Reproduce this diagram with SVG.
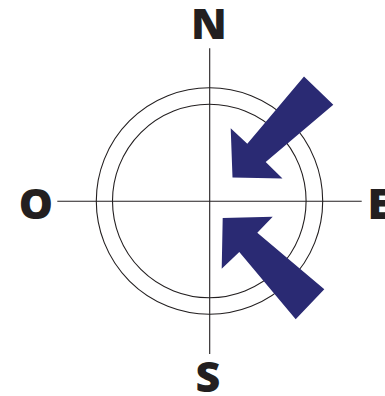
<svg xmlns="http://www.w3.org/2000/svg" width="385" height="396" viewBox="0 0 385 396">
<style>
.ln{stroke:#231f20;stroke-width:1.1;fill:none}
.lbl{font-family:"Open Sans","Liberation Sans",sans-serif;font-weight:800;font-size:43px;fill:#231f20;text-anchor:middle}
.arr{fill:#2a2a73}
</style>
<rect width="385" height="396" fill="#fff"/>
<g id="compass">
<circle class="ln" cx="209.5" cy="201" r="113.2"/>
<circle class="ln" cx="209.3" cy="201" r="96.8"/>
<line class="ln" x1="209.7" y1="48.3" x2="209.7" y2="354"/>
<line class="ln" x1="57.3" y1="201.3" x2="361.7" y2="201.3"/>
</g>
<g id="labels">
<text class="lbl" x="209" y="39">N</text>
<text class="lbl" x="208" y="392">S</text>
<text class="lbl" x="36" y="218.5">O</text>
<text class="lbl" x="367.5" y="218.5" style="text-anchor:start">E</text>
</g>
<g id="arrow-ne">
<polygon class="arr" points="304,76.5 333.3,104.7 265.7,162 282.5,178.5 232.5,177.5 230.7,128.3 247.3,143.7"/>
</g>
<g id="arrow-se">
<polygon class="arr" points="272.7,216.7 222.7,218 221.7,268.7 239.3,252 295.7,319.3 324.3,289.3 257.3,232.7"/>
</g>
</svg>
